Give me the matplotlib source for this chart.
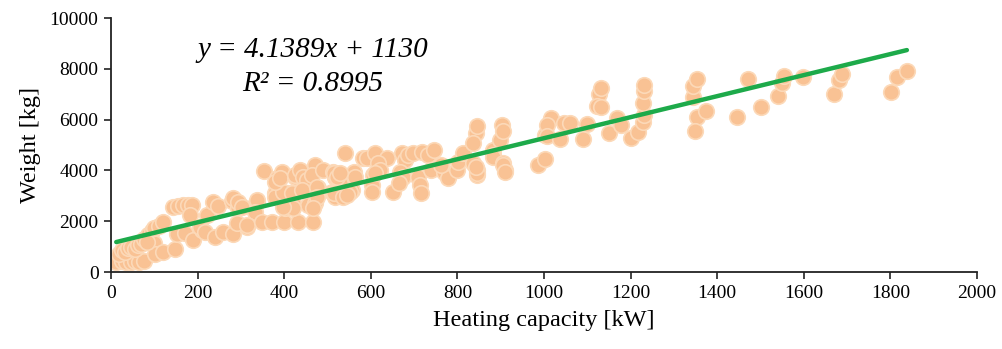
import matplotlib.pyplot as plt
import numpy as np

plt.rcParams['font.family'] = ['Liberation Serif', 'DejaVu Serif']

# heating capacity [kW] and weight [kg]
capacity = [
    12, 25, 35, 45, 55, 65, 75,
    18, 25, 32, 40, 45, 55, 62, 70, 75, 85, 95, 100, 102, 120, 148, 100, 110, 120, 83,
    143, 155, 166, 178, 187, 183, 153, 171, 190, 210, 206, 222, 236, 247, 217, 240, 259,
    280, 282, 291, 298, 294, 314, 338, 333, 282, 294, 303, 338, 333, 291, 314,
    349, 372, 400, 432, 467,
    354, 384, 384, 395, 379, 407, 395, 402, 421, 379, 398, 418, 379, 391, 425, 444,
    479, 455, 421, 398, 472, 511, 518, 541, 557, 455,
    425, 437, 444, 453, 441, 472, 465, 476, 476, 467, 490, 513, 518, 513, 529, 518, 536,
    541, 514, 522, 514, 536, 553, 560, 564, 583, 592, 610, 638, 606, 617, 622, 603, 603,
    652, 610, 529, 545,
    673, 680, 687, 698, 719, 733, 745, 668, 675, 664, 710, 714, 717, 738, 768, 779, 761,
    800, 802, 814, 837, 846, 846, 842, 837, 846, 883, 883, 881, 899, 904, 906, 906, 911,
    906, 911, 846, 842,
    985, 1003, 1003, 1017, 1008, 1006, 1038, 1047, 1061, 1089, 1100,
    1126, 1131, 1123, 1131, 1149, 1168, 1177, 1202, 1218, 1228, 1230, 1228, 1230, 1230,
    1343, 1345, 1353, 1353, 1373, 1348, 1445, 1470, 1500, 1540, 1549, 1554, 1598,
    1669, 1681, 1688, 1801, 1815, 1838,
]
weight = [
    400, 420, 380, 400, 430, 380, 420,
    700, 850, 800, 950, 1000, 900, 1050, 1100, 1300, 1450, 1600, 1150, 700, 800, 900, 1750, 1800, 1950, 1180,
    2550, 2600, 2620, 2630, 2650, 2250, 1500, 1530, 1250, 1650, 1780, 2250, 2760, 2600, 1580, 1380, 1580,
    2800, 1480, 2760, 2640, 2520, 1780, 2760, 2640, 2910, 2760, 2560, 2830, 2360, 1930, 1850,
    1950, 1950, 1950, 1950, 1950,
    3980, 3700, 3500, 3940, 3110, 3110, 2910, 2520, 2720, 2950, 3150, 3110, 3540, 3700, 3740, 3230,
    3310, 2640, 2520, 2560, 2720, 3150, 3740, 3030, 3230, 3700,
    3820, 4020, 3740, 3620, 3230, 4210, 3820, 3350, 2950, 2520, 4020, 3940, 3740, 3110, 3500, 2950, 3030,
    4690, 3900, 3740, 3110, 2950, 3150, 3940, 3740, 4490, 4490, 4690, 4490, 3820, 4290, 4020, 3430, 3150,
    3150, 3900, 3900, 3030,
    4690, 4410, 4610, 4690, 4720, 4610, 4800, 3940, 3740, 3500, 3740, 3430, 3110, 4020, 3940, 3700, 4210,
    4020, 4330, 4690, 4290, 4020, 3820, 5470, 5080, 5750, 4800, 4610, 4530, 5200, 5790, 5550, 4290, 4020,
    4210, 3940, 3900, 4130,
    4210, 4450, 5390, 6060, 5790, 5350, 5240, 5870, 5870, 5240, 5830,
    7010, 7240, 6540, 6500, 5470, 6080, 5790, 5280, 5510, 5910, 6180, 6650, 7130, 7360,
    6890, 7320, 7600, 6100, 6340, 5550, 6100, 7600, 6500, 6930, 7440, 7720, 7680,
    7010, 7560, 7800, 7090, 7680, 7910,
]

slope, intercept = 4.1389, 1130

fig = plt.figure(figsize=(10.03, 3.49), dpi=100)
ax = fig.add_axes([0.1107, 0.2206, 0.8634, 0.7278])

ax.scatter(capacity, weight, s=125, color='#F9C294', edgecolors='#FCD9B8',
           linewidths=1.2, zorder=2)

x_fit = np.array([min(capacity), max(capacity)])
ax.plot(x_fit, slope * x_fit + intercept, color='#1DAA4A', lw=3.2,
        solid_capstyle='round', zorder=3)

ax.text(465, 8070, 'y = 4.1389x + 1130\nR² = 0.8995', ha='center', va='center',
        fontsize=21, style='italic', linespacing=1.38)

ax.set_xlim(0, 2000)
ax.set_ylim(0, 10000)
ax.set_xticks(np.arange(0, 2001, 200))
ax.set_yticks(np.arange(0, 10001, 2000))
ax.tick_params(labelsize=14, length=5, width=1.2, color='#222222', pad=4)
ax.set_xlabel('Heating capacity [kW]', fontsize=17.5, labelpad=6)
ax.set_ylabel('Weight [kg]', fontsize=17.5, labelpad=6)

for side in ['top', 'right']:
    ax.spines[side].set_visible(False)
for side in ['left', 'bottom']:
    ax.spines[side].set_linewidth(1.3)
    ax.spines[side].set_color('#222222')

fig.savefig('out.png', dpi=100)
